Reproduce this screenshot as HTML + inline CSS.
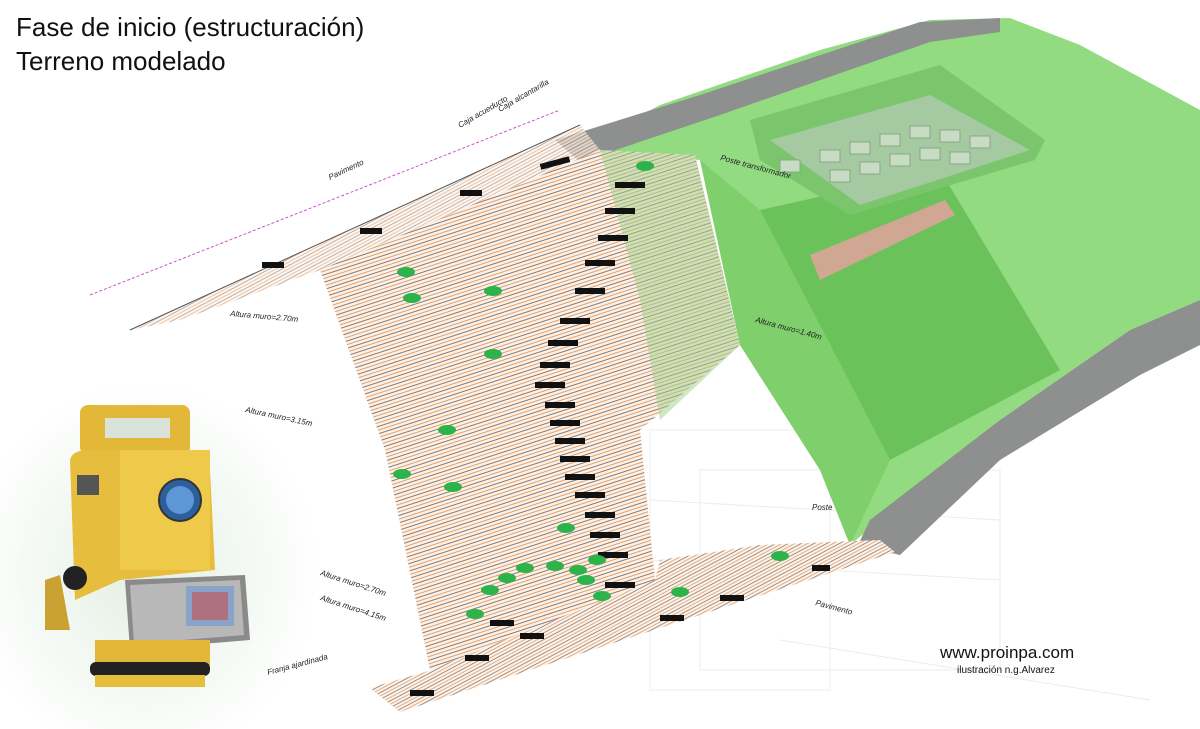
<!DOCTYPE html>
<html><head><meta charset="utf-8"><style>
html,body{margin:0;padding:0;background:#fff;}
svg{display:block}
text{font-family:"Liberation Sans",sans-serif}
</style></head><body>
<svg width="1200" height="729" viewBox="0 0 1200 729" xmlns="http://www.w3.org/2000/svg">
<defs>
<pattern id="contour" width="12" height="7" patternUnits="userSpaceOnUse" patternTransform="rotate(-18)">
<rect width="12" height="7" fill="#faf1ea"/>
<line x1="0" y1="1" x2="12" y2="1" stroke="#e8893c" stroke-width="0.8"/>
<line x1="0" y1="4.5" x2="12" y2="4.5" stroke="#3a2a20" stroke-width="0.6"/>
</pattern>
<pattern id="contour2" width="12" height="6" patternUnits="userSpaceOnUse" patternTransform="rotate(-28)">
<rect width="12" height="6" fill="#fcf4ee"/>
<line x1="0" y1="1" x2="12" y2="1" stroke="#e8893c" stroke-width="0.7"/>
<line x1="0" y1="4" x2="12" y2="4" stroke="#3a2a20" stroke-width="0.5"/>
</pattern>
<radialGradient id="bg" cx="0.45" cy="0.55" r="0.55">
<stop offset="0" stop-color="#e3efe3"/><stop offset="1" stop-color="#ffffff"/>
</radialGradient>
</defs>
<rect width="1200" height="729" fill="#fff"/>
<rect x="0" y="380" width="320" height="349" fill="url(#bg)"/>
<g stroke="#ececec" fill="none" stroke-width="1">
<rect x="650" y="430" width="180" height="260"/>
<rect x="700" y="470" width="300" height="200"/>
<line x1="650" y1="500" x2="1000" y2="520"/><line x1="650" y1="560" x2="1000" y2="580"/>
<line x1="780" y1="640" x2="1150" y2="700"/>
</g>
<polygon points="575,150 660,105 820,50 930,20 1010,18 1080,45 1200,110 1200,300 1130,330 1000,420 880,520 850,545 820,470 740,345 700,160" fill="#93db80"/>
<polygon points="760,210 940,170 1060,370 890,460" fill="#6cc25a"/>
<polygon points="700,160 760,210 890,460 850,545 820,470 740,345" fill="#7fcf6c"/>
<polygon points="750,120 940,65 1045,140 1035,160 850,215 760,160" fill="#7bc56c"/>
<polygon points="770,140 930,95 1030,150 860,205" fill="#a5c9a0"/>
<g fill="#c8dcc4" stroke="#86a883" stroke-width="1">
<rect x="820" y="150" width="20" height="12"/><rect x="850" y="142" width="20" height="12"/><rect x="880" y="134" width="20" height="12"/><rect x="910" y="126" width="20" height="12"/><rect x="940" y="130" width="20" height="12"/><rect x="970" y="136" width="20" height="12"/>
<rect x="830" y="170" width="20" height="12"/><rect x="860" y="162" width="20" height="12"/><rect x="890" y="154" width="20" height="12"/><rect x="920" y="148" width="20" height="12"/><rect x="950" y="152" width="20" height="12"/><rect x="780" y="160" width="20" height="12"/>
</g>
<polygon points="810,255 945,200 955,215 820,280" fill="#e8a0a0" opacity="0.8"/>
<polygon points="555,140 700,95 920,22 1000,18 1000,32 930,42 720,115 580,162" fill="#8e9090"/>
<polygon points="1200,300 1200,345 1140,375 1000,460 900,555 858,545 870,520 1000,420 1130,330" fill="#8e9090"/>
<polygon points="130,330 580,125 600,150 320,270 180,320" fill="url(#contour2)" opacity="0.7"/>
<line x1="130" y1="330" x2="580" y2="125" stroke="#555" stroke-width="1"/>
<line x1="90" y1="295" x2="560" y2="110" stroke="#d050d0" stroke-width="1" stroke-dasharray="3,2"/>
<polygon points="320,270 600,150 695,155 740,345 640,430 655,580 430,670 385,450" fill="url(#contour)"/>
<polygon points="600,150 695,155 740,345 660,420 640,300" fill="#9fd08a" opacity="0.5"/>
<polygon points="370,688 880,540 895,552 400,712" fill="url(#contour2)"/>
<polygon points="430,670 655,580 660,560 760,545 880,540 700,610 420,690" fill="url(#contour2)"/>
<g fill="#111">
<rect x="540" y="160" width="30" height="6" transform="rotate(-15 555 163)"/>
<rect x="615" y="182" width="30" height="6"/><rect x="605" y="208" width="30" height="6"/>
<rect x="598" y="235" width="30" height="6"/><rect x="585" y="260" width="30" height="6"/>
<rect x="575" y="288" width="30" height="6"/><rect x="560" y="318" width="30" height="6"/>
<rect x="548" y="340" width="30" height="6"/><rect x="540" y="362" width="30" height="6"/>
<rect x="535" y="382" width="30" height="6"/><rect x="545" y="402" width="30" height="6"/>
<rect x="550" y="420" width="30" height="6"/><rect x="555" y="438" width="30" height="6"/>
<rect x="560" y="456" width="30" height="6"/><rect x="565" y="474" width="30" height="6"/>
<rect x="575" y="492" width="30" height="6"/><rect x="585" y="512" width="30" height="6"/>
<rect x="590" y="532" width="30" height="6"/><rect x="598" y="552" width="30" height="6"/>
<rect x="605" y="582" width="30" height="6"/>
<rect x="460" y="190" width="22" height="6"/><rect x="360" y="228" width="22" height="6"/><rect x="262" y="262" width="22" height="6"/>
<rect x="490" y="620" width="24" height="6"/><rect x="520" y="633" width="24" height="6"/><rect x="465" y="655" width="24" height="6"/>
<rect x="410" y="690" width="24" height="6"/><rect x="660" y="615" width="24" height="6"/><rect x="720" y="595" width="24" height="6"/><rect x="812" y="565" width="18" height="6"/>
</g>
<g fill="#2cb34a">
<ellipse cx="645" cy="166" rx="9" ry="5"/><ellipse cx="406" cy="272" rx="9" ry="5"/><ellipse cx="412" cy="298" rx="9" ry="5"/><ellipse cx="493" cy="291" rx="9" ry="5"/>
<ellipse cx="493" cy="354" rx="9" ry="5"/><ellipse cx="447" cy="430" rx="9" ry="5"/><ellipse cx="402" cy="474" rx="9" ry="5"/><ellipse cx="453" cy="487" rx="9" ry="5"/>
<ellipse cx="566" cy="528" rx="9" ry="5"/><ellipse cx="525" cy="568" rx="9" ry="5"/><ellipse cx="555" cy="566" rx="9" ry="5"/><ellipse cx="578" cy="570" rx="9" ry="5"/>
<ellipse cx="507" cy="578" rx="9" ry="5"/><ellipse cx="586" cy="580" rx="9" ry="5"/><ellipse cx="490" cy="590" rx="9" ry="5"/><ellipse cx="602" cy="596" rx="9" ry="5"/>
<ellipse cx="475" cy="614" rx="9" ry="5"/><ellipse cx="680" cy="592" rx="9" ry="5"/><ellipse cx="780" cy="556" rx="9" ry="5"/><ellipse cx="597" cy="560" rx="9" ry="5"/>
</g>
<g font-size="8" fill="#222" font-style="italic">
<text x="330" y="180" transform="rotate(-25 330 180)">Pavimento</text>
<text x="230" y="316" transform="rotate(5 230 316)">Altura muro=2.70m</text>
<text x="245" y="412" transform="rotate(12 245 412)">Altura muro=3.15m</text>
<text x="320" y="575" transform="rotate(18 320 575)">Altura muro=2.70m</text>
<text x="320" y="600" transform="rotate(18 320 600)">Altura muro=4.15m</text>
<text x="268" y="675" transform="rotate(-15 268 675)">Franja ajardinada</text>
<text x="755" y="322" transform="rotate(15 755 322)">Altura muro=1.40m</text>
<text x="720" y="160" transform="rotate(15 720 160)">Poste transformador</text>
<text x="812" y="510">Poste</text>
<text x="815" y="605" transform="rotate(15 815 605)">Pavimento</text>
<text x="460" y="128" transform="rotate(-30 460 128)">Caja acueducto</text>
<text x="500" y="112" transform="rotate(-30 500 112)">Caja alcantarilla</text>
</g>
<g>
<rect x="80" y="405" width="110" height="50" rx="8" fill="#e3b838"/>
<rect x="105" y="418" width="65" height="20" fill="#d9e3da"/>
<path d="M70 460 Q72 450 90 450 L195 450 Q210 450 210 470 L215 570 L120 580 L75 600 Z" fill="#e6bd3c"/>
<rect x="120" y="450" width="90" height="120" fill="#efc94a"/>
<circle cx="180" cy="500" r="21" fill="#2d5f9a" stroke="#333" stroke-width="2"/>
<circle cx="180" cy="500" r="14" fill="#5d97d6"/>
<rect x="77" y="475" width="22" height="20" fill="#555"/>
<path d="M45 580 L60 575 L70 630 L45 630 Z" fill="#c9a232"/>
<ellipse cx="75" cy="578" rx="12" ry="12" fill="#222"/>
<polygon points="125,580 245,575 250,640 130,650" fill="#8a8a8a"/>
<polygon points="130,585 240,580 244,635 134,644" fill="#b8b8b8"/>
<rect x="186" y="586" width="48" height="40" fill="#8aa4c8"/>
<rect x="192" y="592" width="36" height="28" fill="#c65050" opacity="0.6"/>
<rect x="95" y="640" width="115" height="25" fill="#e3b838"/>
<rect x="90" y="662" width="120" height="14" rx="6" fill="#222"/>
<rect x="95" y="675" width="110" height="12" fill="#e6bd3c"/>
</g>
<text x="16" y="36" font-size="26" fill="#111">Fase de inicio (estructuración)</text>
<text x="16" y="70" font-size="26" fill="#111">Terreno modelado</text>
<text x="940" y="658" font-size="17" fill="#111">www.proinpa.com</text>
<text x="957" y="673" font-size="10" fill="#111">ilustración n.g.Alvarez</text>
</svg>
</body></html>
